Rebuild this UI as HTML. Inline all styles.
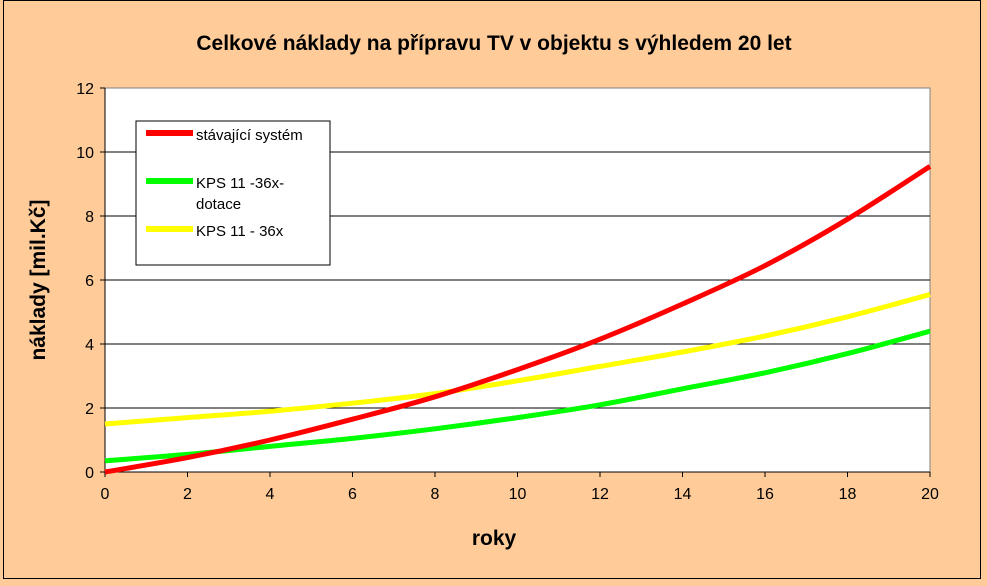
<!DOCTYPE html>
<html><head><meta charset="utf-8"><style>
html,body{margin:0;padding:0;background:#FFCC99;}
svg{display:block;font-family:"Liberation Sans",Arial,sans-serif;}
</style></head><body>
<svg id="chart" width="987" height="586" viewBox="0 0 987 586">
<rect x="0" y="0" width="987" height="586" fill="#FFCC99"/>
<rect x="3.5" y="0.5" width="977" height="578" fill="none" stroke="#000" stroke-width="1"/>
<text x="494" y="50" text-anchor="middle" font-size="21" font-weight="bold">Celkové náklady na přípravu TV v objektu s výhledem 20 let</text>
<rect x="105" y="88" width="825" height="384" fill="#fff" stroke="#808080"/>
<g id="grid"></g><g id="axes"></g><g id="series"></g>
<text x="494" y="545" text-anchor="middle" font-size="21" font-weight="bold">roky</text>
<text transform="translate(45,280) rotate(-90)" text-anchor="middle" font-size="21" font-weight="bold">náklady [mil.Kč]</text>
<g>
<rect x="136" y="121" width="194" height="144" fill="#fff" stroke="#000"/>
<line x1="146" y1="133" x2="193" y2="133" stroke="#FF0000" stroke-width="6"/>
<text x="196" y="140" font-size="15">stávající systém</text>
<line x1="146" y1="181" x2="193" y2="181" stroke="#00FF00" stroke-width="6"/>
<text x="196" y="188" font-size="15">KPS 11 -36x-</text>
<text x="196" y="209" font-size="15">dotace</text>
<line x1="146" y1="229" x2="193" y2="229" stroke="#FFFF00" stroke-width="6"/>
<text x="196" y="236" font-size="15">KPS 11  - 36x</text>
</g>
</svg>
<script>
const years=[0,2,4,6,8,10,12,14,16,18,20];
const stavajici=[0,0.45,1.0,1.65,2.35,3.2,4.15,5.25,6.45,7.9,9.55];
const kpsDotace=[0.35,0.55,0.8,1.05,1.35,1.7,2.1,2.6,3.1,3.7,4.4];
const kps=[1.5,1.7,1.9,2.15,2.45,2.85,3.3,3.75,4.25,4.85,5.55];
const yTicks=[0,2,4,6,8,10,12];
const xTicks=[0,2,4,6,8,10,12,14,16,18,20];
const NS="http://www.w3.org/2000/svg";
const X=v=>105+v/20*825, Y=v=>472-v/12*384;
function mk(t,a,p){const e=document.createElementNS(NS,t);for(const k in a)e.setAttribute(k,a[k]);p.appendChild(e);return e;}
const grid=document.getElementById('grid'),axes=document.getElementById('axes'),ser=document.getElementById('series');
yTicks.forEach(v=>{
 if(v>0&&v<12){const g=mk('line',{x1:105,x2:930,y1:Y(v),y2:Y(v),stroke:'#000','stroke-width':1},grid);
 
 }
 const tk=mk('line',{x1:100,x2:105,y1:Y(v),y2:Y(v),stroke:'#000'},axes);
 
 
 const t=mk('text',{x:94,y:Y(v)+6,'text-anchor':'end','font-size':16},axes);t.textContent=v;
 
 
});
xTicks.forEach(v=>{
 const tk=mk('line',{x1:X(v),x2:X(v),y1:472,y2:477,stroke:'#000'},axes);
 
 
 const t=mk('text',{x:X(v),y:499,'text-anchor':'middle','font-size':16},axes);t.textContent=v;
 
 
});
const ax=mk('path',{d:'M105 88V472H930',fill:'none',stroke:'#000'},axes);


function curve(vals){const p=years.map((x,i)=>[X(x),Y(vals[i])]);let d='M'+p[0][0]+' '+p[0][1];
 for(let i=0;i<p.length-1;i++){const p0=p[Math.max(0,i-1)],p1=p[i],p2=p[i+1],p3=p[Math.min(p.length-1,i+2)];
 d+=' C'+(p1[0]+(p2[0]-p0[0])/6)+' '+(p1[1]+(p2[1]-p0[1])/6)+' '+(p2[0]-(p3[0]-p1[0])/6)+' '+(p2[1]-(p3[1]-p1[1])/6)+' '+p2[0]+' '+p2[1];}
 return d;}
[[kps,'#FFFF00','line-kps'],[kpsDotace,'#00FF00','line-kps-dotace'],[stavajici,'#FF0000','line-stavajici']].forEach(([v,c,n])=>{
 const l=mk('path',{d:curve(v),fill:'none',stroke:c,'stroke-width':5},ser);
 
 
});
</script>
</body></html>
